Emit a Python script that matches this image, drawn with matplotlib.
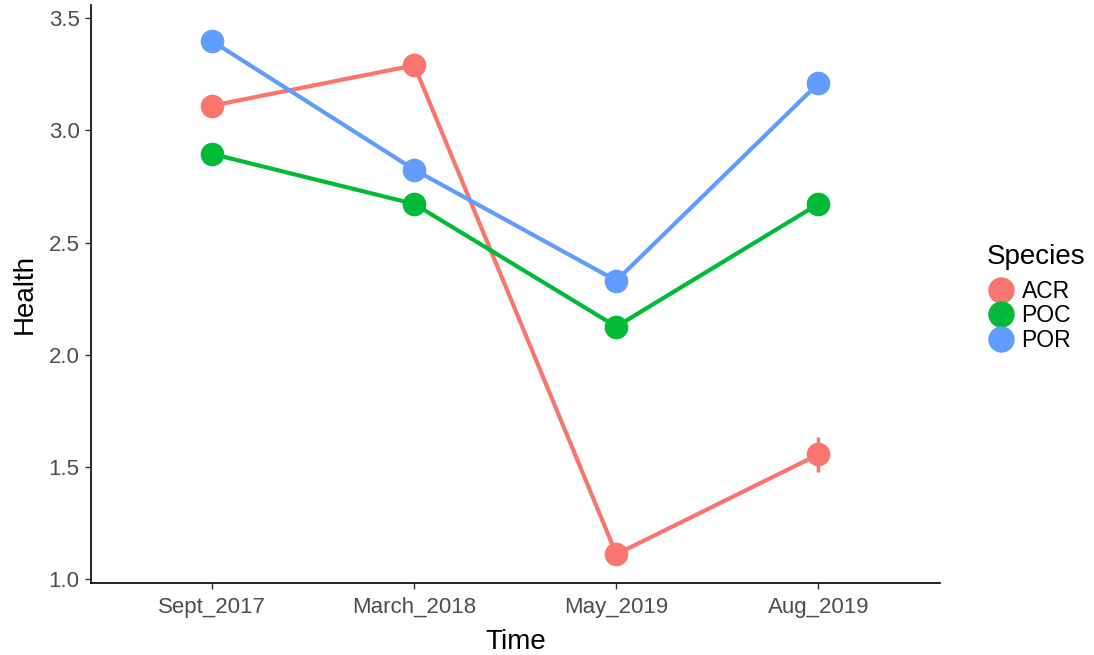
import matplotlib
matplotlib.use('Agg')
import matplotlib.pyplot as plt
import numpy as np
from matplotlib.lines import Line2D

plt.rcParams['font.family'] = ['Liberation Sans', 'DejaVu Sans']

# data
times = ['Sept_2017', 'March_2018', 'May_2019', 'Aug_2019']
species = ['ACR', 'POC', 'POR']
acr = [3.11, 3.29, 1.11, 1.555]
poc = [2.895, 2.672, 2.125, 2.672]
por = [3.398, 2.825, 2.33, 3.21]
acr_err = [0.02, 0.02, 0.02, 0.08]
poc_err = [0.015, 0.015, 0.015, 0.015]
por_err = [0.015, 0.015, 0.015, 0.015]

colors = ['#F8766D', '#00BA38', '#619CFF']

fig = plt.figure(figsize=(10.94, 6.55), dpi=100)
ax = fig.add_axes([0.083, 0.11, 0.776, 0.882])

x = np.arange(len(times))
for vals, errs, c in zip([acr, poc, por], [acr_err, poc_err, por_err], colors):
    ax.errorbar(x, vals, yerr=errs, color=c, lw=0, elinewidth=2.5, capsize=0, zorder=2)
    ax.plot(x, vals, color=c, lw=3, marker='o', markersize=16, zorder=3)

ax.set_xlim(-0.6, 3.6)
ax.set_ylim(0.982, 3.558)
ax.set_xticks(x)
ax.set_xticklabels(times)
ax.set_yticks([1.0, 1.5, 2.0, 2.5, 3.0, 3.5])
ax.set_yticklabels(['1.0', '1.5', '2.0', '2.5', '3.0', '3.5'])
ax.tick_params(labelsize=16, labelcolor='#4D4D4D', length=4, width=1, color='#333333')
ax.tick_params(axis='x', pad=6)
ax.tick_params(axis='y', pad=4)
for s in ['top', 'right']:
    ax.spines[s].set_visible(False)
for s in ['left', 'bottom']:
    ax.spines[s].set_linewidth(1.2)
ax.set_xlabel('Time', fontsize=20, labelpad=8)
ax.set_ylabel('Health', fontsize=20, labelpad=8)

# legend: title drawn separately so the gap to the keys matches
fig.text(0.902, 0.607, 'Species', fontsize=20, va='center', ha='left')
handles = [Line2D([], [], color=c, marker='o', lw=0, markersize=18) for c in colors]
fig.legend(handles, species, loc='center left',
           bbox_to_anchor=(0.895, 0.5176), frameon=False, fontsize=16.5,
           handletextpad=0.35, labelspacing=0.07,
           handlelength=1.1, borderaxespad=0)

fig.savefig('out.png', dpi=100)
